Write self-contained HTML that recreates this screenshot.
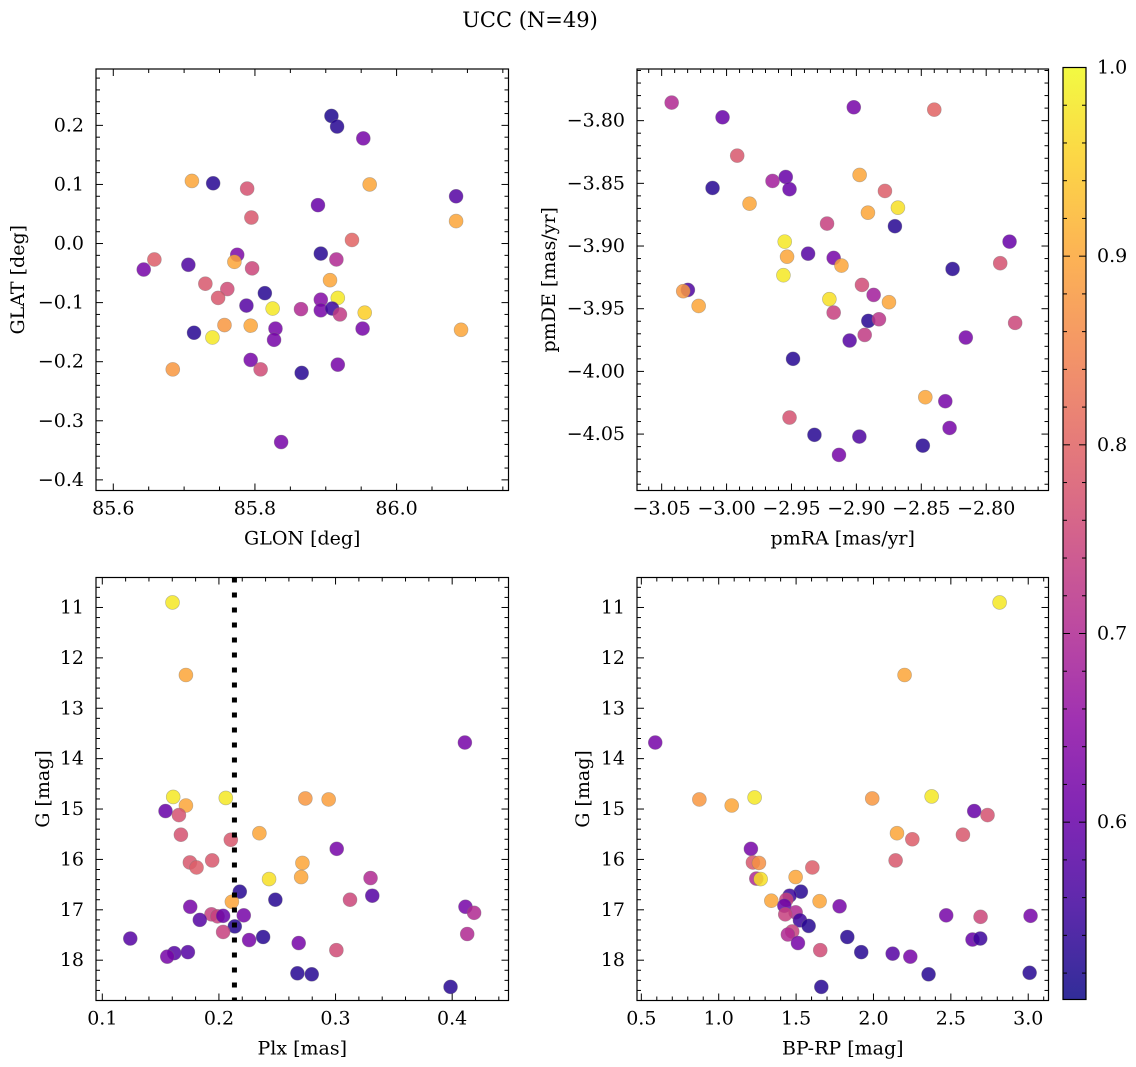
<!DOCTYPE html>
<html><head><meta charset="utf-8">
<style>
html,body{margin:0;padding:0;background:#fff;}
svg{display:block;font-family:"DejaVu Serif","Liberation Serif",serif;}
</style></head>
<body>
<svg id="fig" width="1136" height="1067" viewBox="0 0 1136 1067" xmlns="http://www.w3.org/2000/svg">
<defs><linearGradient id="cbgrad" x1="0" y1="1" x2="0" y2="0"></linearGradient></defs>
<text x="530" y="27" font-size="21" text-anchor="middle">UCC (N=49)</text>
</svg>
<script>
// ---- data ----
const glon = [85.908,85.916,85.953,85.711,85.741,85.789,85.962,86.084,85.889,85.795,86.084,85.937,85.893,85.775,85.771,85.915,85.658,85.706,85.643,85.796,85.906,85.730,85.761,85.814,85.748,85.917,85.893,85.788,85.825,85.865,85.893,85.909,85.920,85.955,85.757,85.794,85.829,85.952,85.714,86.091,85.740,85.827,85.794,85.684,85.808,85.917,85.866,85.837];
const glat = [0.216,0.198,0.178,0.106,0.102,0.093,0.100,0.080,0.065,0.044,0.038,0.006,-0.017,-0.019,-0.031,-0.027,-0.027,-0.036,-0.044,-0.042,-0.062,-0.068,-0.077,-0.084,-0.092,-0.092,-0.095,-0.105,-0.110,-0.111,-0.113,-0.110,-0.120,-0.117,-0.138,-0.139,-0.144,-0.144,-0.151,-0.146,-0.159,-0.163,-0.197,-0.213,-0.213,-0.205,-0.219,-0.336];
const probA = [0.52,0.53,0.62,0.9,0.53,0.77,0.9,0.58,0.6,0.78,0.9,0.8,0.53,0.63,0.9,0.7,0.79,0.57,0.62,0.75,0.9,0.78,0.76,0.53,0.78,0.98,0.64,0.58,0.98,0.7,0.62,0.55,0.73,0.95,0.88,0.9,0.62,0.62,0.53,0.9,0.98,0.62,0.62,0.88,0.76,0.62,0.53,0.62];

const pmra = [-3.0423,-3.0031,-2.902,-2.840,-2.9918,-2.9646,-2.9544,-2.9515,-3.0108,-2.8975,-2.878,-2.9823,-2.868,-2.8911,-2.9226,-2.8703,-2.9552,-2.782,-2.9372,-2.9534,-2.9175,-2.9115,-2.7892,-2.8259,-2.9562,-3.0298,-3.0334,-2.8957,-2.8867,-2.9208,-2.8749,-3.0215,-2.9175,-2.8908,-2.8826,-2.7777,-2.8936,-2.8157,-2.9052,-2.9488,-2.8469,-2.8315,-2.9515,-2.8282,-2.9323,-2.8977,-2.8488,-2.9134];
const pmde = [-3.7856,-3.7973,-3.7893,-3.7912,-3.8279,-3.8481,-3.8449,-3.8547,-3.8537,-3.8433,-3.8561,-3.8662,-3.8694,-3.8734,-3.8821,-3.8842,-3.8965,-3.8965,-3.9061,-3.9085,-3.9095,-3.9156,-3.9137,-3.9183,-3.9233,-3.935,-3.936,-3.931,-3.939,-3.9424,-3.9448,-3.9478,-3.9531,-3.9597,-3.9584,-3.9613,-3.9709,-3.973,-3.9754,-3.99,-4.0206,-4.0238,-4.0368,-4.0451,-4.0506,-4.052,-4.0592,-4.0666];
const probB = [0.7,0.6,0.62,0.8,0.78,0.68,0.6,0.6,0.53,0.9,0.79,0.9,0.97,0.9,0.74,0.53,0.98,0.6,0.58,0.9,0.62,0.9,0.77,0.53,0.98,0.57,0.88,0.76,0.68,0.97,0.9,0.9,0.74,0.53,0.72,0.75,0.73,0.62,0.58,0.53,0.9,0.62,0.77,0.62,0.53,0.57,0.53,0.62];

const plx = [0.1602,0.1717,0.4109,0.1608,0.2059,0.1717,0.2741,0.2941,0.1542,0.1657,0.1674,0.2347,0.2102,0.301,0.1751,0.1808,0.1942,0.2716,0.243,0.2705,0.330,0.2179,0.2484,0.3124,0.3315,0.2111,0.1754,0.4114,0.4188,0.1936,0.1988,0.2036,0.2213,0.1836,0.2136,0.2036,0.4129,0.124,0.2379,0.2259,0.2684,0.3007,0.1617,0.1734,0.1557,0.2673,0.2796,0.3986];
const gmagC = [10.90,12.34,13.68,14.76,14.78,14.93,14.79,14.81,15.04,15.12,15.51,15.48,15.61,15.79,16.06,16.16,16.02,16.07,16.39,16.35,16.37,16.64,16.80,16.80,16.72,16.84,16.94,16.94,17.06,17.09,17.13,17.12,17.11,17.20,17.33,17.44,17.48,17.57,17.54,17.60,17.66,17.80,17.86,17.84,17.93,18.26,18.28,18.53];
const probC = [0.98,0.9,0.62,0.98,0.98,0.9,0.88,0.89,0.6,0.77,0.77,0.9,0.78,0.62,0.78,0.79,0.78,0.9,0.97,0.9,0.7,0.53,0.53,0.75,0.58,0.9,0.62,0.62,0.7,0.74,0.74,0.6,0.62,0.58,0.53,0.74,0.7,0.58,0.53,0.62,0.62,0.76,0.58,0.58,0.62,0.53,0.53,0.53];
const plxCut = [0.2133];

const bprp = [2.815,2.201,0.590,0.875,1.084,1.232,1.992,2.376,2.651,2.737,2.578,2.152,2.251,1.208,1.221,1.260,2.143,1.605,1.497,1.243,1.271,1.531,1.458,1.437,1.340,1.652,1.781,1.424,1.497,1.430,2.470,2.692,3.015,1.525,1.581,1.475,1.447,1.831,2.640,2.690,1.512,1.656,1.921,2.124,2.238,2.356,3.009,1.663];
const gmagD = [10.90,12.34,13.68,14.81,14.93,14.77,14.79,14.75,15.04,15.12,15.51,15.48,15.60,15.79,16.06,16.07,16.02,16.16,16.35,16.38,16.39,16.64,16.72,16.80,16.82,16.83,16.93,16.92,17.05,17.09,17.11,17.14,17.12,17.21,17.32,17.43,17.49,17.54,17.59,17.57,17.66,17.80,17.84,17.87,17.93,18.28,18.25,18.53];
const probD = [0.98,0.9,0.62,0.88,0.9,0.98,0.88,0.98,0.6,0.77,0.78,0.9,0.79,0.62,0.78,0.87,0.78,0.79,0.9,0.7,0.97,0.53,0.55,0.74,0.9,0.9,0.62,0.6,0.7,0.74,0.62,0.75,0.62,0.55,0.53,0.74,0.7,0.53,0.6,0.55,0.62,0.76,0.53,0.58,0.62,0.53,0.53,0.53];

const cbTicks = [0.6,0.7,0.8,0.9,1.0];
const vmin = 0.506, vmax = 1.0;

// ---- helpers ----
const NS = "http://www.w3.org/2000/svg";
const svg = document.getElementById('fig');
const FS = 19;
const plasma = [[13,8,135],[65,4,157],[106,0,168],[143,13,164],[177,42,144],[204,71,120],[225,100,98],[242,132,75],[252,166,54],[252,206,37],[240,249,33]];
function cmap(p){
  let t=(p-vmin)/(vmax-vmin); t=Math.max(0,Math.min(1,t));
  const f=t*10, i=Math.min(9,Math.floor(f)), r=f-i;
  const a=plasma[i], b=plasma[i+1];
  return 'rgb('+[0,1,2].map(k=>Math.round(a[k]+(b[k]-a[k])*r)).join(',')+')';
}
function mk(tag, attrs, parent){
  const e=document.createElementNS(NS,tag);
  for(const k in attrs) e.setAttribute(k,attrs[k]);
  (parent||svg).appendChild(e); return e;
}
function fmt(v,d){ const s=v.toFixed(d); return s.replace('-','\u2212'); }

function panel(c){
  const g=mk('g',{});
  
  
  const sx=v=>c.x0+(v-c.xd[0])/(c.xd[1]-c.xd[0])*(c.x1-c.x0);
  const sy=v=>c.y1-(v-c.yd[0])/(c.yd[1]-c.yd[0])*(c.y1-c.y0);
  for(let i=0;i<c.xs.length;i++){
    const pt=mk('circle',{cx:sx(c.xs[i]),cy:sy(c.ys[i]),r:7,fill:cmap(c.ps[i]),'fill-opacity':0.85,stroke:'#777','stroke-opacity':0.5,'stroke-width':0.6},g);
    
    
  }
  if(c.vline){
    const vl=mk('line',{x1:sx(c.vline[0]),x2:sx(c.vline[0]),y1:c.y0,y2:c.y1,stroke:'#000','stroke-width':5,'stroke-dasharray':'5 10'},g);
    
    
  }
  const tk=mk('g',{stroke:'#000','stroke-width':1},g);
  
  
  const lo=Math.min(...c.xd), hi=Math.max(...c.xd);
  for(let k=Math.ceil(lo/c.xmin-1e-6);k*c.xmin<=hi+1e-9;k++){
    const v=k*c.xmin, X=sx(v);
    const maj=Math.abs(v/c.xmaj-Math.round(v/c.xmaj))<1e-6, L=maj?7:4;
    mk('line',{x1:X,x2:X,y1:c.y1,y2:c.y1-L},tk);
    mk('line',{x1:X,x2:X,y1:c.y0,y2:c.y0+L},tk);
    if(maj){
      const t=mk('text',{x:X,y:c.y1+24,'font-size':FS,'text-anchor':'middle',stroke:'none',fill:'#000'},g);
      t.textContent=fmt(v,c.xdec);
      
      
    }
  }
  const ylo=Math.min(...c.yd), yhi=Math.max(...c.yd);
  for(let k=Math.ceil(ylo/c.ymin-1e-6);k*c.ymin<=yhi+1e-9;k++){
    const v=k*c.ymin, Y=sy(v);
    const maj=Math.abs(v/c.ymaj-Math.round(v/c.ymaj))<1e-6, L=maj?7:4;
    mk('line',{x1:c.x0,x2:c.x0+L,y1:Y,y2:Y},tk);
    mk('line',{x1:c.x1,x2:c.x1-L,y1:Y,y2:Y},tk);
    if(maj){
      const t=mk('text',{x:c.x0-12,y:Y+6,'font-size':FS,'text-anchor':'end',stroke:'none',fill:'#000'},g);
      t.textContent=fmt(v,c.ydec);
      
      
    }
  }
  const fr=mk('rect',{x:c.x0,y:c.y0,width:c.x1-c.x0,height:c.y1-c.y0,fill:'none',stroke:'#000','stroke-width':1.2},g);
  
  
  const xl=mk('text',{x:(c.x0+c.x1)/2,y:c.y1+54,'font-size':FS,'text-anchor':'middle'},g);
  xl.textContent=c.xlabel;
  
  
  const yx=c.ylx, yy=(c.y0+c.y1)/2;
  const yl=mk('text',{x:yx,y:yy,'font-size':FS,'text-anchor':'middle',transform:'rotate(-90 '+yx+' '+yy+')'},g);
  yl.textContent=c.ylabel;
  
  
}

panel({name:'glon-glat-panel',x0:96,x1:508.5,y0:69,y1:490.5,xd:[85.5756,86.158],yd:[-0.418,0.2954],xs:glon,ys:glat,ps:probA,xmaj:0.2,xmin:0.05,ymaj:0.1,ymin:0.02,xdec:1,ydec:1,xlabel:'GLON [deg]',ylabel:'GLAT [deg]',ylx:24});
panel({name:'proper-motion-panel',x0:637,x1:1048.5,y0:69,y1:490.5,xd:[-3.069,-2.752],yd:[-4.095,-3.7588],xs:pmra,ys:pmde,ps:probB,xmaj:0.05,xmin:0.01,ymaj:0.05,ymin:0.01,xdec:2,ydec:2,xlabel:'pmRA [mas/yr]',ylabel:'pmDE [mas/yr]',ylx:555});
panel({name:'plx-g-panel',x0:96,x1:508.5,y0:577.5,y1:1000.5,xd:[0.0946,0.4483],yd:[18.80,10.405],xs:plx,ys:gmagC,ps:probC,xmaj:0.1,xmin:0.02,ymaj:1,ymin:0.2,xdec:1,ydec:0,xlabel:'Plx [mas]',ylabel:'G [mag]',ylx:49,vline:plxCut});
panel({name:'cmd-panel',x0:637,x1:1048.5,y0:577.5,y1:1000.5,xd:[0.472,3.131],yd:[18.80,10.405],xs:bprp,ys:gmagD,ps:probD,xmaj:0.5,xmin:0.1,ymaj:1,ymin:0.2,xdec:1,ydec:0,xlabel:'BP-RP [mag]',ylabel:'G [mag]',ylx:589});

// colorbar
const grad=document.getElementById('cbgrad');
for(let i=0;i<=20;i++){
  const p=vmin+(vmax-vmin)*i/20;
  mk('stop',{offset:(i/20),'stop-color':cmap(p),'stop-opacity':0.85},grad);
}
const cb=mk('g',{});


const cx0=1063, cx1=1086, cy0=67.5, cy1=999.5;
const cy=v=>cy1-(v-vmin)/(vmax-vmin)*(cy1-cy0);
mk('rect',{x:cx0,y:cy0,width:cx1-cx0,height:cy1-cy0,fill:'url(#cbgrad)'},cb);
for(let k=Math.ceil(vmin/0.02);k*0.02<=vmax+1e-9;k++){
  const v=k*0.02, Y=cy(v), maj=Math.abs(v*10-Math.round(v*10))<1e-6;
  mk('line',{x1:cx1,x2:cx1-(maj?7:4),y1:Y,y2:Y,stroke:'#000','stroke-width':1},cb);
  mk('line',{x1:cx0,x2:cx0+(maj?7:4),y1:Y,y2:Y,stroke:'#000','stroke-width':1},cb);
}
for(const v of cbTicks){
  const t=mk('text',{x:cx1+11,y:cy(v)+6,'font-size':FS},cb);
  t.textContent=v.toFixed(1);
  
  
}
mk('rect',{x:cx0,y:cy0,width:cx1-cx0,height:cy1-cy0,fill:'none',stroke:'#000','stroke-width':1.2},cb);
</script>
</body></html>
